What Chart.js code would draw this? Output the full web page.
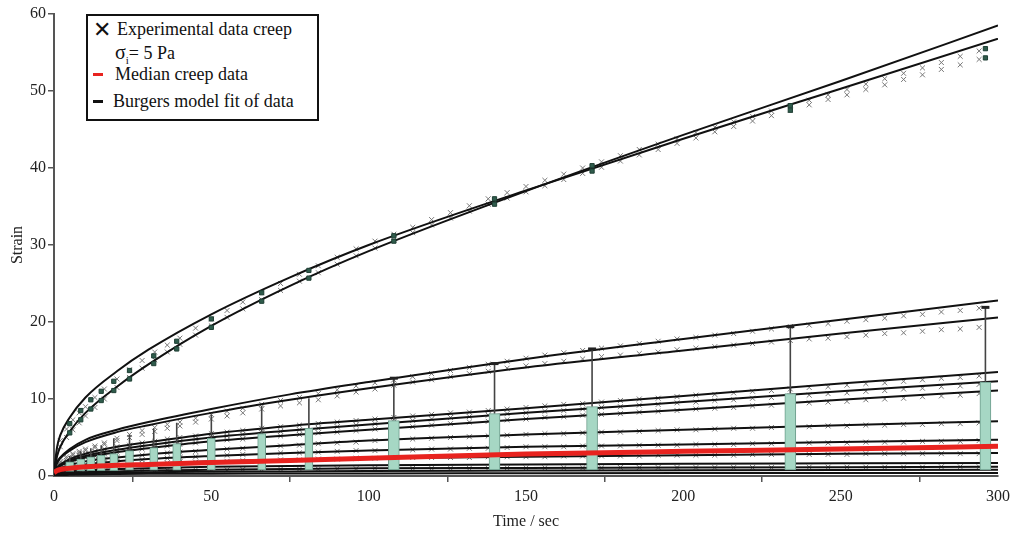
<!DOCTYPE html>
<html>
<head>
<meta charset="utf-8">
<title>Creep data</title>
<script src="https://cdn.jsdelivr.net/npm/chart.js@4.4.1/dist/chart.umd.min.js"></script>
<style>
  html, body { margin: 0; padding: 0; background: #fff; }
  #wrap { position: relative; width: 1015px; height: 535px; }
  #legend {
    position: absolute; left: 86px; top: 14px; width: 229px; height: 103px;
    border: 2px solid #111; background: #fff;
    font-family: "Liberation Serif", serif; font-size: 18px; color: #111;
  }
  #legend .row { position: absolute; white-space: nowrap; line-height: 21px; }
  #legend .dash { position: absolute; width: 10px; height: 3px; }
</style>
</head>
<body>
<div id="wrap">
  <canvas id="creepChart" width="1015" height="535"></canvas>
  <div id="legend">
    <div class="row" style="left:5px; top:2px; font-size:22px; line-height:24px;">&#x2715;</div>
    <div class="row" style="left:29px; top:3px;">Experimental data creep</div>
    <div class="row" style="left:27px; top:26px;"><span style="font-size:20px">&sigma;</span><sub style="font-size:11px">i</sub>= 5 Pa</div>
    <div class="dash" style="left:5px; top:57px; background:#e8231f;"></div>
    <div class="row" style="left:27px; top:48px;">Median creep data</div>
    <div class="dash" style="left:5px; top:84px; background:#111;"></div>
    <div class="row" style="left:25px; top:75px;">Burgers model fit of data</div>
  </div>
</div>
<script>
    // time axis samples (sec)
    const fitTimes = [0, 1, 2, 5, 10, 20, 30, 50, 75, 100, 150, 200, 250, 300];
    const markTimes = [2, 4, 6, 8, 10, 13, 16, 20, 24, 28, 32, 36, 40, 45, 50, 55, 60, 66, 72, 78,
      84, 90, 96, 102, 108, 114, 120, 126, 132, 138, 144, 150, 156, 162, 168, 174, 180, 186, 192, 198,
      204, 210, 216, 222, 228, 234, 240, 246, 252, 258, 264, 270, 276, 282, 288, 294];
    const boxTimes = [5, 8.5, 11.7, 15, 19, 24, 31.7, 39, 50, 66, 81, 108, 140, 171, 234, 296];

    // Burgers model fits (strain)
    const fitTop1 = [0.5, 2.6, 3.8, 5.8, 8.2, 11.6, 14.5, 19.5, 24.7, 29.2, 37.0, 44.3, 51.3, 58.5];
    const fitTop2 = [0.5, 3.8, 5.3, 7.6, 10.2, 13.6, 16.4, 21.0, 25.8, 30.0, 37.1, 43.8, 50.3, 56.8];
    const fitMid1 = [0.3, 1.8, 2.4, 3.5, 4.7, 6.0, 7.0, 8.7, 10.6, 12.2, 15.2, 17.8, 20.3, 22.8];
    const fitMid2 = [0.3, 1.7, 2.3, 3.3, 4.4, 5.7, 6.6, 8.2, 9.9, 11.4, 14.1, 16.3, 18.5, 20.6];
    const fitLow1 = [0.2, 1.1, 1.5, 2.2, 2.9, 3.8, 4.4, 5.5, 6.5, 7.3, 8.8, 10.4, 12.0, 13.5];
    const fitLow2 = [0.2, 1.0, 1.4, 2.0, 2.6, 3.4, 4.0, 5.0, 5.9, 6.7, 8.2, 9.6, 11.0, 12.3];
    const fitLow3 = [0.2, 0.9, 1.3, 1.8, 2.4, 3.1, 3.6, 4.5, 5.3, 6.0, 7.4, 8.6, 9.9, 11.1];
    const fitLow4 = [0.1, 0.7, 1.0, 1.4, 1.9, 2.4, 2.8, 3.4, 4.0, 4.6, 5.4, 6.0, 6.6, 7.1];
    const fitLow5 = [0.1, 0.6, 0.8, 1.1, 1.5, 1.9, 2.2, 2.6, 3.0, 3.3, 3.8, 4.1, 4.4, 4.7];
    const fitLow6 = [0.1, 0.4, 0.6, 0.8, 1.1, 1.4, 1.6, 1.9, 2.1, 2.3, 2.5, 2.7, 2.9, 3.0];
    const fitLow7 = [0.1, 0.3, 0.4, 0.6, 0.7, 0.9, 1.0, 1.2, 1.3, 1.4, 1.5, 1.6, 1.65, 1.7];
    const fitLow8 = [0.1, 0.2, 0.3, 0.4, 0.5, 0.6, 0.7, 0.8, 0.9, 1.0, 1.05, 1.1, 1.15, 1.2];
    const fitLow9 = [0.05, 0.15, 0.2, 0.3, 0.35, 0.45, 0.5, 0.55, 0.6, 0.65, 0.7, 0.75, 0.78, 0.8];
    const fitLow10 = [0.0, 0.1, 0.1, 0.15, 0.2, 0.25, 0.28, 0.3, 0.32, 0.34, 0.36, 0.38, 0.39, 0.4];

    // median creep data
    const medianCreep = [0.45, 0.7, 0.85, 1.0, 1.2, 1.4, 1.5, 1.75, 2.0, 2.3, 2.85, 3.2, 3.5, 3.85];

    // experimental data (x markers)
    const dataTop1 = [4.6, 6.1, 7.3, 8.2, 9.0, 10.2, 11.3, 12.6, 13.8, 15.0, 16.1, 17.0, 17.9, 19.2, 20.4,
      21.5, 22.6, 23.8, 25.0, 26.2, 27.3, 28.4, 29.5, 30.5, 31.4, 32.3, 33.3, 34.2, 35.1, 36.0,
      36.8, 37.6, 38.4, 39.2, 40.0, 40.8, 41.6, 42.4, 43.1, 43.8, 44.6, 45.3, 46.0, 46.7, 47.4,
      48.1, 48.8, 49.5, 50.2, 50.9, 51.6, 52.3, 53.0, 53.7, 54.5, 55.2];
    const dataTop2 = [3.8, 5.0, 6.0, 6.9, 7.8, 8.9, 10.0, 11.5, 12.8, 14.0, 15.1, 16.1, 17.1, 18.3, 19.5,
      20.6, 21.7, 22.9, 24.1, 25.3, 26.4, 27.5, 28.6, 29.6, 30.6, 31.6, 32.6, 33.5, 34.4, 35.3,
      36.1, 36.9, 37.7, 38.5, 39.3, 40.1, 40.9, 41.7, 42.4, 43.2, 43.9, 44.7, 45.4, 46.1, 46.8,
      47.5, 48.2, 48.9, 49.5, 50.2, 50.8, 51.5, 52.1, 52.8, 53.4, 54.1];
    const dataMid1 = [1.9, 2.5, 2.9, 3.2, 3.5, 3.9, 4.3, 4.9, 5.4, 5.9, 6.3, 6.7, 7.0, 7.5, 8.0,
      8.4, 8.8, 9.3, 9.8, 10.2, 10.7, 11.2, 11.7, 12.1, 12.5, 12.9, 13.3, 13.7, 14.1, 14.5,
      14.9, 15.3, 15.7, 16.0, 16.3, 16.6, 16.9, 17.2, 17.5, 17.8, 18.0, 18.3, 18.5, 18.8, 19.1,
      19.4, 19.6, 19.8, 20.1, 20.3, 20.5, 20.8, 21.0, 21.3, 21.5, 21.8];
    const dataMid2 = [1.7, 2.3, 2.7, 3.0, 3.3, 3.7, 4.1, 4.6, 5.0, 5.4, 5.8, 6.2, 6.5, 7.0, 7.4,
      7.8, 8.2, 8.7, 9.1, 9.5, 9.9, 10.4, 10.9, 11.3, 11.8, 12.2, 12.5, 12.9, 13.3, 13.6,
      14.0, 14.3, 14.6, 14.9, 15.2, 15.5, 15.7, 15.9, 16.1, 16.4, 16.6, 16.8, 17.0, 17.2, 17.4,
      17.6, 17.8, 17.9, 18.1, 18.3, 18.5, 18.6, 18.8, 19.0, 19.1, 19.3];
    const dataLow1 = [1.5, 2.0, 2.4, 2.7, 2.9, 3.2, 3.5, 3.8, 4.0, 4.3, 4.5, 4.8, 5.0, 5.2, 5.5,
      5.7, 5.9, 6.2, 6.4, 6.6, 6.8, 7.0, 7.2, 7.4, 7.6, 7.8, 8.0, 8.2, 8.3, 8.5,
      8.7, 8.9, 9.1, 9.3, 9.4, 9.6, 9.8, 10.0, 10.1, 10.3, 10.5, 10.6, 10.8, 11.0, 11.1,
      11.3, 11.5, 11.6, 11.8, 12.0, 12.1, 12.3, 12.5, 12.7, 12.8, 13.0];
    const dataLow2 = [1.4, 1.8, 2.2, 2.4, 2.6, 2.9, 3.2, 3.4, 3.7, 3.9, 4.1, 4.3, 4.5, 4.8, 5.0,
      5.2, 5.4, 5.6, 5.8, 6.0, 6.2, 6.4, 6.6, 6.8, 7.0, 7.2, 7.4, 7.6, 7.7, 7.9,
      8.1, 8.2, 8.4, 8.5, 8.7, 8.9, 9.0, 9.2, 9.3, 9.5, 9.6, 9.8, 9.9, 10.1, 10.2,
      10.4, 10.5, 10.7, 10.8, 11.0, 11.1, 11.3, 11.4, 11.6, 11.7, 11.9];
    const dataLow3 = [1.3, 1.6, 1.9, 2.1, 2.4, 2.6, 2.9, 3.1, 3.3, 3.5, 3.7, 3.9, 4.1, 4.3, 4.5,
      4.7, 4.8, 5.0, 5.2, 5.4, 5.6, 5.7, 5.9, 6.1, 6.2, 6.4, 6.6, 6.8, 7.0, 7.1,
      7.3, 7.4, 7.6, 7.7, 7.9, 8.0, 8.1, 8.3, 8.4, 8.5, 8.7, 8.8, 8.9, 9.1, 9.2,
      9.3, 9.5, 9.6, 9.7, 9.9, 10.0, 10.1, 10.3, 10.4, 10.5, 10.7];
    const dataLow4 = [1.0, 1.3, 1.5, 1.7, 1.9, 2.1, 2.2, 2.4, 2.6, 2.7, 2.8, 3.0, 3.1, 3.2, 3.4,
      3.5, 3.6, 3.8, 3.9, 4.0, 4.2, 4.3, 4.4, 4.6, 4.7, 4.8, 4.9, 5.0, 5.1, 5.2,
      5.3, 5.4, 5.5, 5.5, 5.6, 5.7, 5.7, 5.8, 5.9, 6.0, 6.0, 6.1, 6.2, 6.2, 6.3,
      6.4, 6.4, 6.5, 6.5, 6.6, 6.6, 6.7, 6.7, 6.8, 6.8, 6.9];
    const dataLow5 = [0.8, 1.0, 1.2, 1.3, 1.5, 1.6, 1.7, 1.9, 2.0, 2.1, 2.2, 2.3, 2.4, 2.5, 2.6,
      2.7, 2.8, 2.9, 3.0, 3.0, 3.1, 3.2, 3.3, 3.3, 3.4, 3.4, 3.5, 3.5, 3.6, 3.6,
      3.7, 3.8, 3.8, 3.8, 3.9, 3.9, 3.9, 4.0, 4.0, 4.0, 4.1, 4.1, 4.1, 4.2, 4.2,
      4.2, 4.3, 4.3, 4.3, 4.4, 4.4, 4.4, 4.5, 4.5, 4.5, 4.6];
    const dataLow6 = [0.6, 0.7, 0.8, 0.9, 1.1, 1.2, 1.3, 1.4, 1.5, 1.6, 1.6, 1.7, 1.8, 1.8, 1.9,
      1.9, 2.0, 2.0, 2.1, 2.1, 2.2, 2.2, 2.3, 2.3, 2.3, 2.4, 2.4, 2.4, 2.4, 2.5,
      2.5, 2.5, 2.5, 2.6, 2.6, 2.6, 2.6, 2.6, 2.7, 2.7, 2.7, 2.7, 2.7, 2.8, 2.8,
      2.8, 2.8, 2.8, 2.8, 2.9, 2.9, 2.9, 2.9, 2.9, 2.9, 2.9];
    const dataLow7 = [0.3, 0.4, 0.4, 0.5, 0.5, 0.55, 0.6, 0.6, 0.65, 0.7, 0.7, 0.75, 0.75, 0.8, 0.8,
      0.8, 0.85, 0.85, 0.9, 0.9, 0.9, 0.95, 0.95, 1.0, 1.0, 1.0, 1.0, 1.0, 1.0, 1.0,
      1.05, 1.05, 1.05, 1.05, 1.05, 1.05, 1.1, 1.1, 1.1, 1.1, 1.1, 1.1, 1.1, 1.1, 1.1,
      1.1, 1.15, 1.15, 1.15, 1.15, 1.15, 1.15, 1.15, 1.2, 1.2, 1.2];

    // box plot statistics at the sampled times
    const boxQ1 = [0.6, 0.65, 0.7, 0.7, 0.7, 0.75, 0.75, 0.75, 0.8, 0.8, 0.8, 0.8, 0.8, 0.8, 0.8, 0.8];
    const boxQ3 = [1.85, 2.2, 2.5, 2.7, 2.9, 3.3, 3.7, 4.2, 4.9, 5.5, 6.2, 7.2, 8.1, 9.0, 10.7, 12.2];
    const whiskerTop = [2.6, 3.2, 3.6, 4.0, 4.9, 5.4, 6.2, 6.9, 8.0, 9.1, 10.1, 12.7, 14.6, 16.5, 19.4, 21.9];
    const outlierHigh = [6.8, 8.5, 9.9, 11.0, 12.3, 13.7, 15.6, 17.5, 20.4, 23.8, 26.7, 31.2, 36.0, 40.3, 48.1, 55.5];
    const outlierLow = [5.6, 7.3, 8.7, 9.8, 11.1, 12.6, 14.6, 16.5, 19.3, 22.7, 25.7, 30.5, 35.3, 39.6, 47.5, 54.3];

    const fitSeries = [fitTop1, fitTop2, fitMid1, fitMid2, fitLow1, fitLow2, fitLow3, fitLow4,
      fitLow5, fitLow6, fitLow7, fitLow8, fitLow9, fitLow10];
    const dataSeries = [dataTop1, dataTop2, dataMid1, dataMid2, dataLow1, dataLow2, dataLow3,
      dataLow4, dataLow5, dataLow6, dataLow7];

    const pts = (xs, ys) => xs.map((x, i) => ({ x: x, y: ys[i] }));
    const serif = 'Liberation Serif';

    const datasets = [];

    dataSeries.forEach(s => datasets.push({
      type: 'scatter',
      data: pts(markTimes, s),
      pointStyle: 'crossRot',
      pointRadius: 3.5,
      borderColor: '#777',
      borderWidth: 1,
      order: 7
    }));

    fitSeries.forEach(s => datasets.push({
      type: 'line',
      data: pts(fitTimes, s),
      borderColor: '#111',
      borderWidth: 2,
      pointRadius: 0,
      cubicInterpolationMode: 'monotone',
      fill: false,
      order: 6
    }));

    // whiskers: box top -> max, broken with nulls
    const whiskerPts = [];
    boxTimes.forEach((t, i) => {
      whiskerPts.push({ x: t, y: boxQ3[i] }, { x: t, y: whiskerTop[i] }, { x: t, y: null });
    });
    datasets.push({
      type: 'line',
      data: whiskerPts,
      borderColor: '#444',
      borderWidth: 1.6,
      pointRadius: 0,
      spanGaps: false,
      order: 5
    });

    const boxData = boxTimes.map((t, i) => ({ x: t, y: [boxQ1[i], boxQ3[i]] }));
    datasets.push({
      type: 'bar',
      data: boxData.filter(d => d.x < 100),
      barThickness: 8,
      grouped: false,
      backgroundColor: '#a6d7c4',
      borderColor: '#6d9d8c',
      borderWidth: 1,
      borderSkipped: false,
      order: 4
    });
    datasets.push({
      type: 'bar',
      data: boxData.filter(d => d.x >= 100),
      barThickness: 11,
      grouped: false,
      backgroundColor: '#a6d7c4',
      borderColor: '#6d9d8c',
      borderWidth: 1,
      borderSkipped: false,
      order: 4
    });

    // whisker caps, visible on the later boxes only
    datasets.push({
      type: 'scatter',
      data: pts(boxTimes, whiskerTop).filter(d => d.x >= 100),
      pointStyle: 'line',
      pointRadius: 4,
      borderColor: '#222',
      borderWidth: 3,
      order: 3
    });

    datasets.push({
      type: 'scatter',
      data: pts(boxTimes, outlierHigh).concat(pts(boxTimes, outlierLow)),
      pointStyle: 'rect',
      pointRadius: 3,
      backgroundColor: '#2f5c4c',
      borderColor: '#1f3f34',
      borderWidth: 1,
      order: 2
    });

    datasets.push({
      type: 'line',
      data: pts(fitTimes, medianCreep),
      borderColor: '#e8231f',
      borderWidth: 5,
      pointRadius: 0,
      cubicInterpolationMode: 'monotone',
      fill: false,
      order: 1
    });

    const ctx = document.getElementById('creepChart').getContext('2d');
    const creepChart = new Chart(ctx, {
      type: 'scatter',
      data: { datasets: datasets },
      options: {
        responsive: false,
        animation: false,
        layout: { padding: { top: 14, right: 15, left: 0, bottom: 0 } },
        plugins: { legend: { display: false }, tooltip: { enabled: false } },
        scales: {
          x: {
            type: 'linear', min: 0, max: 300, offset: false,
            ticks: { stepSize: 50, font: { family: serif, size: 16 }, color: '#222', padding: 5 },
            grid: { drawOnChartArea: false, drawTicks: true, tickLength: 6, color: '#555', lineWidth: 1.5 },
            border: { color: '#555', width: 2 },
            title: { display: true, text: 'Time / sec', font: { family: serif, size: 16 }, color: '#222', padding: { top: 2, bottom: 4 } },
            afterFit: s => { s.height = 59; }
          },
          y: {
            type: 'linear', min: 0, max: 60,
            ticks: { stepSize: 10, font: { family: serif, size: 16 }, color: '#222', padding: 2 },
            grid: { drawOnChartArea: false, drawTicks: true, tickLength: 6, color: '#555', lineWidth: 1.5 },
            border: { color: '#555', width: 2 },
            title: { display: true, text: 'Strain', font: { family: serif, size: 16 }, color: '#222', padding: { top: 8, bottom: 2 } },
            afterFit: s => { s.width = 54; }
          }
        }
      }
    });
</script>
</body>
</html>
